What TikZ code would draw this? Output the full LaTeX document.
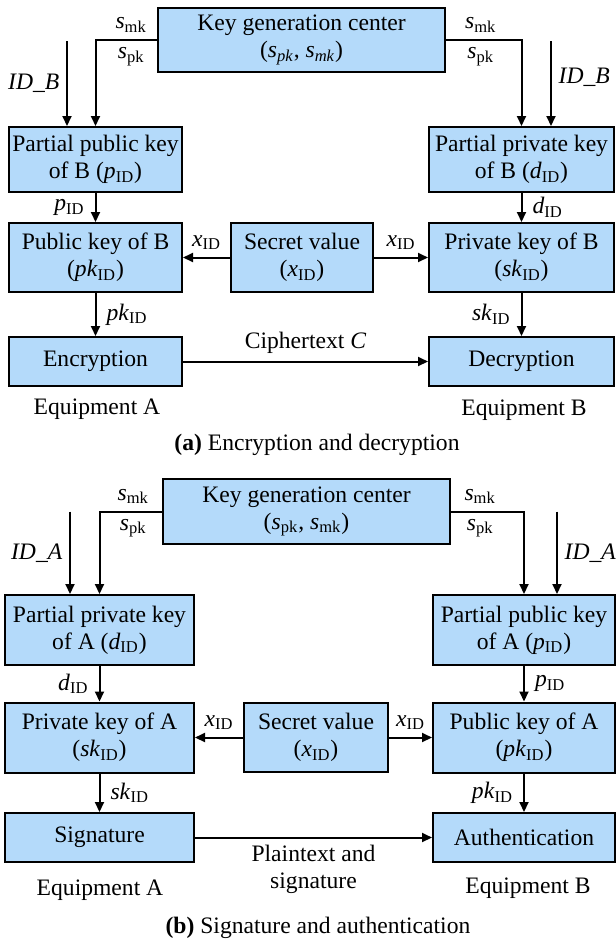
\documentclass[tikz,border=0pt]{standalone}
\usepackage{fontspec}
\setmainfont{Liberation Serif}
\usetikzlibrary{arrows.meta}
\definecolor{keyblue}{RGB}{180,218,250}
\newcommand{\vsub}[2]{\textit{#1}\textsubscript{#2}}
\begin{document}
\begin{tikzpicture}[x=0.5pt, y=-0.5pt, line width=1pt,
        every node/.style={font=\fontsize{11.8}{13.5}\selectfont},
        box/.style={draw, fill=keyblue, align=center, inner sep=0pt, minimum height=32.5pt},
        lbl/.style={inner sep=5pt},
        arr/.style={-{Triangle[length=5pt, width=4.5pt]}}]
    \useasboundingbox (0,0) rectangle (616,943);
    % (a) encryption and decryption
    \node[box, minimum width=143.5pt, minimum height=32pt] (kgcA) at (301.5,40) {Key generation center\\(\textit{s\textsubscript{pk}}, \textit{s\textsubscript{mk}})};
    \node[box, minimum width=86.5pt] (ppkB) at (95.5,159.5) {Partial public key\\of B (\vsub{p}{ID})};
    \node[box, minimum width=92.5pt] (pskB) at (521.5,159.5) {Partial private key\\of B (\vsub{d}{ID})};
    \node[box, minimum width=86.5pt, minimum height=34.5pt] (pkB) at (95.5,257.5) {Public key of B\\(\vsub{pk}{ID})};
    \node[box, minimum width=71pt, minimum height=34.5pt] (svA) at (302,257.5) {Secret value\\(\vsub{x}{ID})};
    \node[box, minimum width=92.5pt, minimum height=34.5pt] (skB) at (521.5,257.5) {Private key of B\\(\vsub{sk}{ID})};
    \node[box, minimum width=86.5pt, minimum height=24.5pt] (enc) at (95.5,361.5) {Encryption};
    \node[box, minimum width=92.5pt, minimum height=24.5pt] (dec) at (521.5,361.5) {Decryption};
    \node (eqA1) at (97,409) {Equipment A};
    \node (eqB1) at (524,410) {Equipment B};
    \node (capA) at (317,445) {\textbf{(a)} Encryption and decryption};
    \coordinate (idB1) at (67,41);
    \coordinate (idB2) at (551,41);
    \draw[arr] (kgcA.west) -| node[pos=0.21, above] (smkA1) {\vsub{s}{mk}} node[pos=0.21, below] (spkA1) {\vsub{s}{pk}} (ppkB.north);
    \draw[arr] (kgcA.east) -| node[pos=0.23, above] (smkA2) {\vsub{s}{mk}} node[pos=0.23, below] (spkA2) {\vsub{s}{pk}} (pskB.north);
    \draw[arr] (idB1) -- node[left] (lidB1) {\textit{ID\_B}} (idB1 |- ppkB.north);
    \draw[arr] (idB2) -- node[right, yshift=3pt] (lidB2) {\textit{ID\_B}} (idB2 |- pskB.north);
    \draw[arr] (ppkB) -- node[lbl, left] (lpB) {\vsub{p}{ID}} (pkB);
    \draw[arr] (pskB) -- node[lbl, right] (ldB) {\vsub{d}{ID}} (skB);
    \draw[arr] (svA) -- node[above] (lxA1) {\vsub{x}{ID}} (pkB);
    \draw[arr] (svA) -- node[above] (lxA2) {\vsub{x}{ID}} (skB);
    \draw[arr] (pkB) -- node[lbl, right] (lpkB) {\vsub{pk}{ID}} (enc);
    \draw[arr] (skB) -- node[lbl, left] (lskB) {\vsub{sk}{ID}} (dec);
    \draw[arr] (enc) -- node[above] (lct) {Ciphertext \textit{C}} (dec);
    % (b) signature and authentication
    \node[box, minimum width=143.5pt] (kgcB) at (306.5,511.5) {Key generation center\\(\vsub{s}{pk}, \vsub{s}{mk})};
    \node[box, minimum width=94.5pt, minimum height=35pt] (pskA) at (99.5,630) {Partial private key\\of A (\vsub{d}{ID})};
    \node[box, minimum width=91pt, minimum height=35pt] (ppkA) at (524,630) {Partial public key\\of A (\vsub{p}{ID})};
    \node[box, minimum width=94.5pt, minimum height=35pt] (skA) at (99.5,737.5) {Private key of A\\(\vsub{sk}{ID})};
    \node[box, minimum width=72pt, minimum height=34.5pt] (svB) at (316,737.5) {Secret value\\(\vsub{x}{ID})};
    \node[box, minimum width=91pt, minimum height=35pt] (pkA) at (524,737.5) {Public key of A\\(\vsub{pk}{ID})};
    \node[box, minimum width=94.5pt, minimum height=24.5pt] (sig) at (99.5,837.5) {Signature};
    \node[box, minimum width=91pt, minimum height=24.5pt] (auth) at (524,837.5) {Authentication};
    \node (eqA2) at (100,890) {Equipment A};
    \node (eqB2) at (528,888) {Equipment B};
    \node (capB) at (318,928) {\textbf{(b)} Signature and authentication};
    \coordinate (idA1) at (70,511.5);
    \coordinate (idA2) at (557,511.5);
    \draw[arr] (kgcB.west) -| node[pos=0.23, above] (smkB1) {\vsub{s}{mk}} node[pos=0.23, below] (spkB1) {\vsub{s}{pk}} (pskA.north);
    \draw[arr] (kgcB.east) -| node[pos=0.2, above] (smkB2) {\vsub{s}{mk}} node[pos=0.2, below] (spkB2) {\vsub{s}{pk}} (ppkA.north);
    \draw[arr] (idA1) -- node[left] (lidA1) {\textit{ID\_A}} (idA1 |- pskA.north);
    \draw[arr] (idA2) -- node[right] (lidA2) {\textit{ID\_A}} (idA2 |- ppkA.north);
    \draw[arr] (pskA) -- node[lbl, left] (ldA) {\vsub{d}{ID}} (skA);
    \draw[arr] (ppkA) -- node[lbl, right] (lpA) {\vsub{p}{ID}} (pkA);
    \draw[arr] (svB) -- node[above] (lxB1) {\vsub{x}{ID}} (skA);
    \draw[arr] (svB) -- node[above] (lxB2) {\vsub{x}{ID}} (pkA);
    \draw[arr] (skA) -- node[lbl, right] (lskA) {\vsub{sk}{ID}} (sig);
    \draw[arr] (pkA) -- node[lbl, left] (lpkA) {\vsub{pk}{ID}} (auth);
    \draw[arr] (sig) -- node[below, align=center] (lpt) {Plaintext and\\signature} (auth);
\end{tikzpicture}
\end{document}
